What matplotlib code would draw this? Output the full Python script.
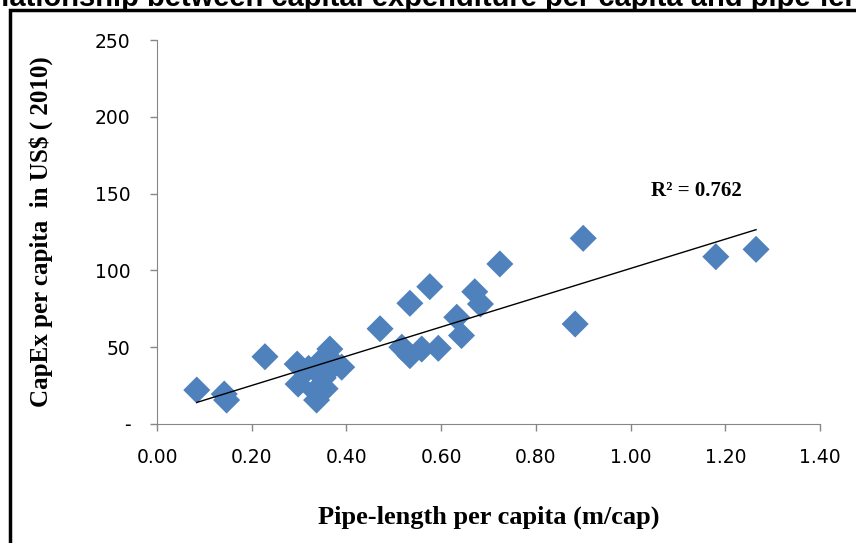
import numpy as np
import matplotlib.pyplot as plt
from matplotlib.patches import Rectangle

# Pipe-length per capita (m/cap) vs CapEx per capita (US$ 2010)
pipe_length = [0.084, 0.142, 0.147, 0.228, 0.296, 0.298, 0.320, 0.351, 0.365,
               0.376, 0.390, 0.351, 0.334, 0.355, 0.337, 0.471, 0.517, 0.534,
               0.534, 0.559, 0.576, 0.594, 0.633, 0.643, 0.671, 0.683, 0.724,
               0.883, 0.900, 1.180, 1.265]
capex = [22.1, 19.5, 15.6, 43.8, 39.0, 26.0, 36.2, 42.5, 48.8,
         39.0, 37.0, 30.0, 21.5, 23.0, 15.6, 62.0, 50.0, 78.6,
         44.5, 48.8, 89.4, 49.3, 69.5, 57.6, 86.1, 78.1, 104.2,
         65.1, 120.9, 108.9, 113.7]
r2_label = "R² = 0.762"
x_ticks = [0.0, 0.2, 0.4, 0.6, 0.8, 1.0, 1.2, 1.4]
y_ticks = [0, 50, 100, 150, 200, 250]
y_tick_labels = ["-", "50", "100", "150", "200", "250"]

fig = plt.figure(figsize=(8.56, 5.43), dpi=100)
ax = fig.add_axes([157 / 856, 1 - 424 / 543, 663 / 856, 384 / 543])

ax.scatter(pipe_length, capex, marker="D", s=190, color="#4F81BD",
           edgecolors="none", zorder=3)

# linear trendline over the data range
m, b = np.polyfit(pipe_length, capex, 1)
xs = np.array([min(pipe_length), max(pipe_length)])
ax.plot(xs, m * xs + b, color="black", linewidth=1, zorder=4)

ax.text(1.14, 152, r2_label, ha="center", va="center", fontsize=15,
        fontweight="bold", family="Liberation Serif")

ax.set_xlim(0, 1.4)
ax.set_ylim(0, 250)
ax.set_xticks(x_ticks)
ax.set_xticklabels([f"{t:.2f}" for t in x_ticks])
ax.set_yticks(y_ticks)
ax.set_yticklabels(y_tick_labels)
for lab in ax.get_xticklabels() + ax.get_yticklabels():
    lab.set_family("Liberation Sans Narrow")
    lab.set_fontsize(13.5)
ax.tick_params(axis="both", direction="out", length=5, color="#868686",
               width=1)
ax.tick_params(axis="x", pad=12)
ax.tick_params(axis="y", pad=14)
for side in ["top", "right"]:
    ax.spines[side].set_visible(False)
for side in ["left", "bottom"]:
    ax.spines[side].set_color("#868686")

ax.set_xlabel("Pipe-length per capita (m/cap)", fontsize=19, fontweight="bold",
              family="Liberation Serif", labelpad=28)
ax.set_ylabel("CapEx per capita  in US$ ( 2010)", fontsize=18,
              fontweight="bold", family="Liberation Serif", labelpad=30)

# chart border and the clipped title above it (cut off as in the source)
fig.patches.append(Rectangle((10 / 856, -0.1), 2.0, 1 - 10 / 543 + 0.1,
                             transform=fig.transFigure, fill=False,
                             edgecolor="black", linewidth=2.5))
fig.text(-36 / 856, 1 - 6.5 / 543,
         "Relationship between capital expenditure per capita and pipe-length per capita",
         ha="left", va="baseline", fontsize=21, fontweight="bold",
         family="Liberation Sans")

fig.savefig("out.png", dpi=100)
